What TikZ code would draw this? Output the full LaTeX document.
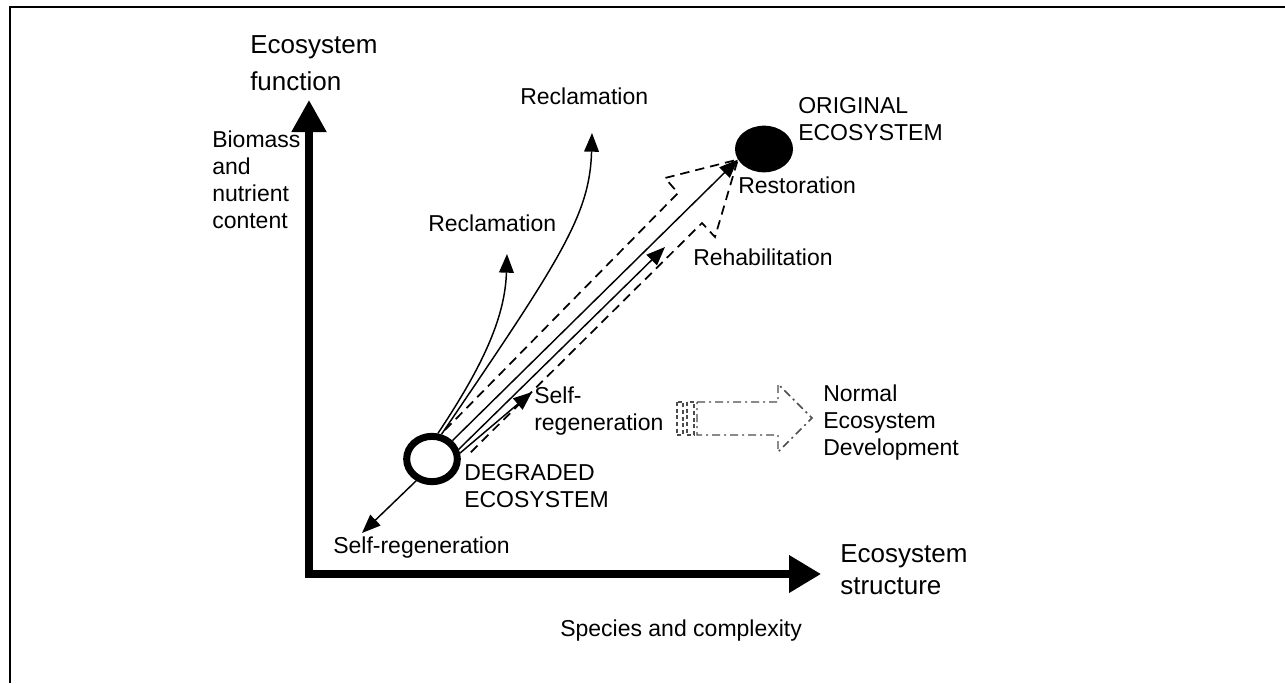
\documentclass[tikz,border=0pt]{standalone}
\usepackage{fontspec}
\setmainfont{Liberation Sans}
\usetikzlibrary{arrows.meta,calc,positioning,shapes.geometric}
\tikzstyle{lbl}=[
  font={\fontsize{17.25}{20.25}\selectfont},
  inner sep=0pt,
  align=left,
  anchor=west,
]
\tikzstyle{biglbl}=[
  font={\fontsize{19.5}{24}\selectfont},
  inner sep=0pt,
  align=left,
  anchor=west,
]
\tikzstyle{axis}=[
  line width=5.4pt,
  {Triangle[length=24pt,width=25pt]}-{Triangle[length=24pt,width=27pt]},
]
\tikzstyle{route}=[
  line width=1.1pt,
  -{Triangle[length=14pt,width=11pt]},
]
\tikzstyle{outline}=[
  line width=1.3pt,
  dash pattern=on 7pt off 4.5pt,
]
\tikzstyle{striped}=[
  line width=1.1pt,
  color=black!70,
  dash pattern=on 6pt off 3pt on 1.5pt off 3pt,
]
\tikzset{
  x=0.75pt,
  y=-0.75pt,
}
\begin{document}
\begin{tikzpicture}
  \useasboundingbox (0,0) rectangle (1285,683);
  \draw [line width=2pt] (10,683) -- (10,7) -- (1285,7);
  %% axes
  \coordinate (ytip) at (309,100);
  \coordinate (origin) at (309,574);
  \coordinate (xtip) at (821,574);
  \draw [axis] (ytip) -- (origin) -- (xtip);
  \node (yname) [biglbl, font={\fontsize{19.5}{28}\selectfont}] at (250,63) {Ecosystem\\function};
  \node (ydesc) [lbl] at (212,180) {Biomass\\and\\nutrient\\content};
  \node (xname) [biglbl] at (840,570) {Ecosystem\\structure};
  \node (xdesc) [lbl, anchor=base west] at (560,636) {Species and complexity};
  %% states
  \node (degraded) [ellipse, draw, line width=5.25pt, inner sep=0pt,
    minimum width=38pt, minimum height=34pt] at (432,459) {};
  \node (original) [ellipse, fill, inner sep=0pt,
    minimum width=43.5pt, minimum height=35pt] at (764,149) {};
  \node (degname) [lbl] at (464,486) {DEGRADED\\ECOSYSTEM};
  \node (origname) [lbl] at (798,119) {ORIGINAL\\ECOSYSTEM};
  %% restoration outline
  \coordinate (tailup) at (445,430);
  \coordinate (shaftup) at (678,193);
  \coordinate (wingup) at (665,178);
  \coordinate (wingdown) at (715,237);
  \coordinate (shaftdown) at (702,223);
  \coordinate (taildown) at (468,455);
  \draw [outline] (tailup) -- (shaftup) -- (wingup) -- (original.202)
    -- (wingdown) -- (shaftdown) -- (taildown);
  %% routes
  \coordinate (recuptip) at (592,133);
  \coordinate (reclowtip) at (507,254);
  \coordinate (rehabtip) at (665,247);
  \coordinate (regentip) at (532,392);
  \coordinate (backtip) at (362,533);
  \draw [route] (degraded.77) .. controls (480,370) and (505,320) .. (reclowtip);
  \draw [route] (degraded.69) .. controls (560,260) and (590,215) .. (recuptip);
  \draw [route] (degraded.42) -- (original.202);
  \draw [route] (degraded.20) -- (rehabtip);
  \draw [route] (degraded.12) -- (regentip);
  \draw [route] (degraded.234) -- (backtip);
  \node (recup) [lbl, anchor=base west] at (520,104) {Reclamation};
  \node (reclow) [lbl, anchor=base west] at (428,231) {Reclamation};
  \node (resto) [lbl, anchor=base west] at (738,193) {Restoration};
  \node (rehab) [lbl, anchor=base west] at (693,265) {Rehabilitation};
  \node (regen) [lbl] at (534,411) {Self-\\regeneration};
  \node (regenback) [lbl, anchor=base west] at (333,553) {Self-regeneration};
  %% normal development
  \draw [striped, densely dashed] (677,402) rectangle (683,435);
  \draw [striped, densely dashed] (687,402) rectangle (694,435);
  \draw [striped] (697,402) -- (778,402) -- (778,384) -- (812,418)
    -- (778,452) -- (778,435) -- (697,435) -- cycle;
  \node (normal) [lbl] at (823,423) {Normal\\Ecosystem\\Development};
\end{tikzpicture}
\end{document}
